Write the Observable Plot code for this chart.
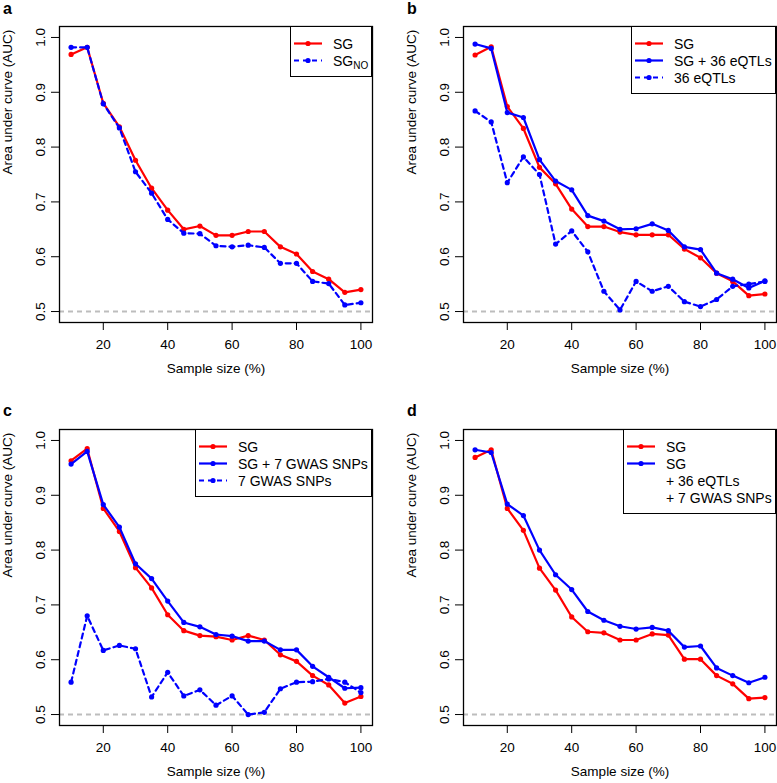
<!DOCTYPE html>
<html><head><meta charset="utf-8">
<script src="https://cdn.jsdelivr.net/npm/d3@7"></script>
<script src="https://cdn.jsdelivr.net/npm/@observablehq/plot@0.6"></script>
<style>
body{margin:0;background:#fff;overflow:hidden}
#wrap{position:relative;width:777px;height:783px;font-family:"Liberation Sans",Arial,Helvetica,sans-serif;color:#000}
.panel{position:absolute}
.plab{position:absolute;font-weight:bold;font-size:16px;line-height:16px}
.legend{position:absolute;box-sizing:border-box;border:1.3px solid #000;background:#fff;padding-top:8px;font-size:14px}
.row{display:flex;align-items:center;height:17px;white-space:nowrap}
.row svg{flex:none}
sub{font-size:10px;vertical-align:-3px;line-height:0}
</style></head><body><div id="wrap"></div>
<script>
// ---------- data ----------
const sampleSize = [10,15,20,25,30,35,40,45,50,55,60,65,70,75,80,85,90,95,100];

const aSG   = [0.969,0.982,0.880,0.837,0.776,0.725,0.685,0.650,0.656,0.639,0.639,0.646,0.646,0.618,0.605,0.573,0.559,0.535,0.540];
const aSGNO = [0.982,0.982,0.879,0.835,0.755,0.716,0.668,0.643,0.642,0.620,0.618,0.621,0.617,0.588,0.588,0.555,0.551,0.512,0.516];

const bSG      = [0.968,0.983,0.874,0.834,0.763,0.733,0.687,0.655,0.655,0.645,0.640,0.640,0.640,0.614,0.598,0.570,0.555,0.529,0.532];
const bSGeQTL  = [0.988,0.980,0.863,0.854,0.777,0.738,0.722,0.675,0.665,0.650,0.651,0.660,0.648,0.618,0.613,0.570,0.559,0.543,0.556];
const beQTL    = [0.866,0.846,0.735,0.782,0.750,0.623,0.647,0.609,0.537,0.503,0.555,0.537,0.546,0.518,0.509,0.522,0.546,0.550,0.555];

const cSG      = [0.963,0.985,0.876,0.834,0.768,0.731,0.682,0.653,0.644,0.642,0.636,0.644,0.636,0.609,0.597,0.571,0.554,0.521,0.533];
const cSGGWAS  = [0.957,0.980,0.883,0.842,0.775,0.748,0.707,0.668,0.660,0.646,0.643,0.634,0.634,0.618,0.618,0.588,0.568,0.548,0.549];
const cGWAS    = [0.559,0.680,0.617,0.626,0.620,0.532,0.577,0.534,0.545,0.517,0.534,0.500,0.504,0.547,0.559,0.560,0.565,0.559,0.540];

const dSG      = [0.969,0.983,0.876,0.836,0.767,0.727,0.678,0.651,0.649,0.636,0.636,0.647,0.645,0.601,0.601,0.571,0.556,0.529,0.531];
const dSGall   = [0.983,0.978,0.884,0.863,0.800,0.755,0.728,0.688,0.672,0.661,0.656,0.659,0.653,0.623,0.625,0.585,0.571,0.558,0.568];

const xTicks = [20,40,60,80,100];
const yTicks = [0.5,0.6,0.7,0.8,0.9,1.0];
const chanceLevel = 0.5;
const xLabel = "Sample size (%)";
const yLabel = "Area under curve (AUC)";

const RED = "#ff0000", BLUE = "#0000ff";

const panels = [
  {id:"a", left:0, top:0, legendW:82, series:[
    {name:"SG", values:aSG, color:RED, dash:null},
    {name:"SG<sub>NO</sub>", values:aSGNO, color:BLUE, dash:"5,4"}]},
  {id:"b", left:404, top:0, legendW:145, series:[
    {name:"SG", values:bSG, color:RED, dash:null},
    {name:"SG + 36 eQTLs", values:bSGeQTL, color:BLUE, dash:null},
    {name:"36 eQTLs", values:beQTL, color:BLUE, dash:"5,4"}]},
  {id:"c", left:0, top:403, legendW:177, series:[
    {name:"SG", values:cSG, color:RED, dash:null},
    {name:"SG + 7 GWAS SNPs", values:cSGGWAS, color:BLUE, dash:null},
    {name:"7 GWAS SNPs", values:cGWAS, color:BLUE, dash:"5,4"}]},
  {id:"d", left:404, top:403, legendW:153, series:[
    {name:"SG", values:dSG, color:RED, dash:null},
    {name:"SG", values:dSGall, color:BLUE, dash:null},
    {name:"+ 36 eQTLs", values:null},
    {name:"+ 7 GWAS SNPs", values:null}]}
];

const W = 373, H = 380, ML = 59, MR = 1, MT = 26, MB = 58;
const wrap = document.getElementById("wrap");

for (const p of panels) {
  const marks = [
    Plot.ruleY([chanceLevel], {stroke:"#bdbdbd", strokeWidth:2, strokeDasharray:"5,4"})
  ];
  for (const s of p.series) {
    if (!s.values) continue;
    const data = sampleSize.map((x,i) => ({x, y:s.values[i]}));
    marks.push(Plot.line(data, {x:"x", y:"y", stroke:s.color, strokeWidth:2.2, strokeDasharray:s.dash || undefined}));
    marks.push(Plot.dot(data, {x:"x", y:"y", fill:s.color, r:2.6}));
  }
  marks.push(
    Plot.frame({stroke:"#000", strokeWidth:1.3}),
    Plot.axisX({ticks:xTicks, tickSize:8, tickPadding:9, label:null}),
    Plot.axisY({ticks:yTicks, tickFormat:d3.format(".1f"), tickRotate:-90, tickSize:8, tickPadding:7, label:null}),
    Plot.text([xLabel], {frameAnchor:"bottom", dy:50, text:d=>d}),
    Plot.text([yLabel], {frameAnchor:"left", dx:-52, rotate:-90, text:d=>d})
  );
  const svg = Plot.plot({
    width:W, height:H, marginLeft:ML, marginRight:MR, marginTop:MT, marginBottom:MB,
    x:{domain:[6.4,103.6]},
    y:{domain:[0.48,1.02]},
    style:{fontFamily:'"Liberation Sans",Arial,Helvetica,sans-serif', fontSize:"13.5px", color:"#000", background:"transparent", overflow:"visible"},
    marks
  });
  const div = document.createElement("div");
  div.className = "panel";
  div.style.left = p.left + "px";
  div.style.top = p.top + "px";
  div.style.width = W + "px";
  div.style.height = H + "px";
  div.appendChild(svg);

  // legend (top-right of plotting region)
  const lg = document.createElement("div");
  lg.className = "legend";
  lg.style.width = p.legendW + "px";
  lg.style.right = MR + "px";
  lg.style.top = MT + "px";
  lg.style.height = (16.5 + p.series.length * 17) + "px";
  for (const s of p.series) {
    const row = document.createElement("div");
    row.className = "row";
    let sw = `<svg width="42" height="17">`;
    if (s.values) {
      sw += `<line x1="3" x2="31" y1="8.5" y2="8.5" stroke="${s.color}" stroke-width="2.2"${s.dash ? ` stroke-dasharray="${s.dash}"` : ""}/>` +
            `<circle cx="17" cy="8.5" r="2.6" fill="${s.color}"/>`;
    }
    sw += `</svg>`;
    row.innerHTML = sw + `<span>${s.name}</span>`;
    lg.appendChild(row);
  }
  div.appendChild(lg);
  wrap.appendChild(div);

  const lab = document.createElement("div");
  lab.className = "plab";
  lab.textContent = p.id;
  lab.style.left = (p.left === 0 ? 3 : 407) + "px";
  lab.style.top = (p.top === 0 ? 1 : 403) + "px";
  wrap.appendChild(lab);
}
</script>
</body></html>
